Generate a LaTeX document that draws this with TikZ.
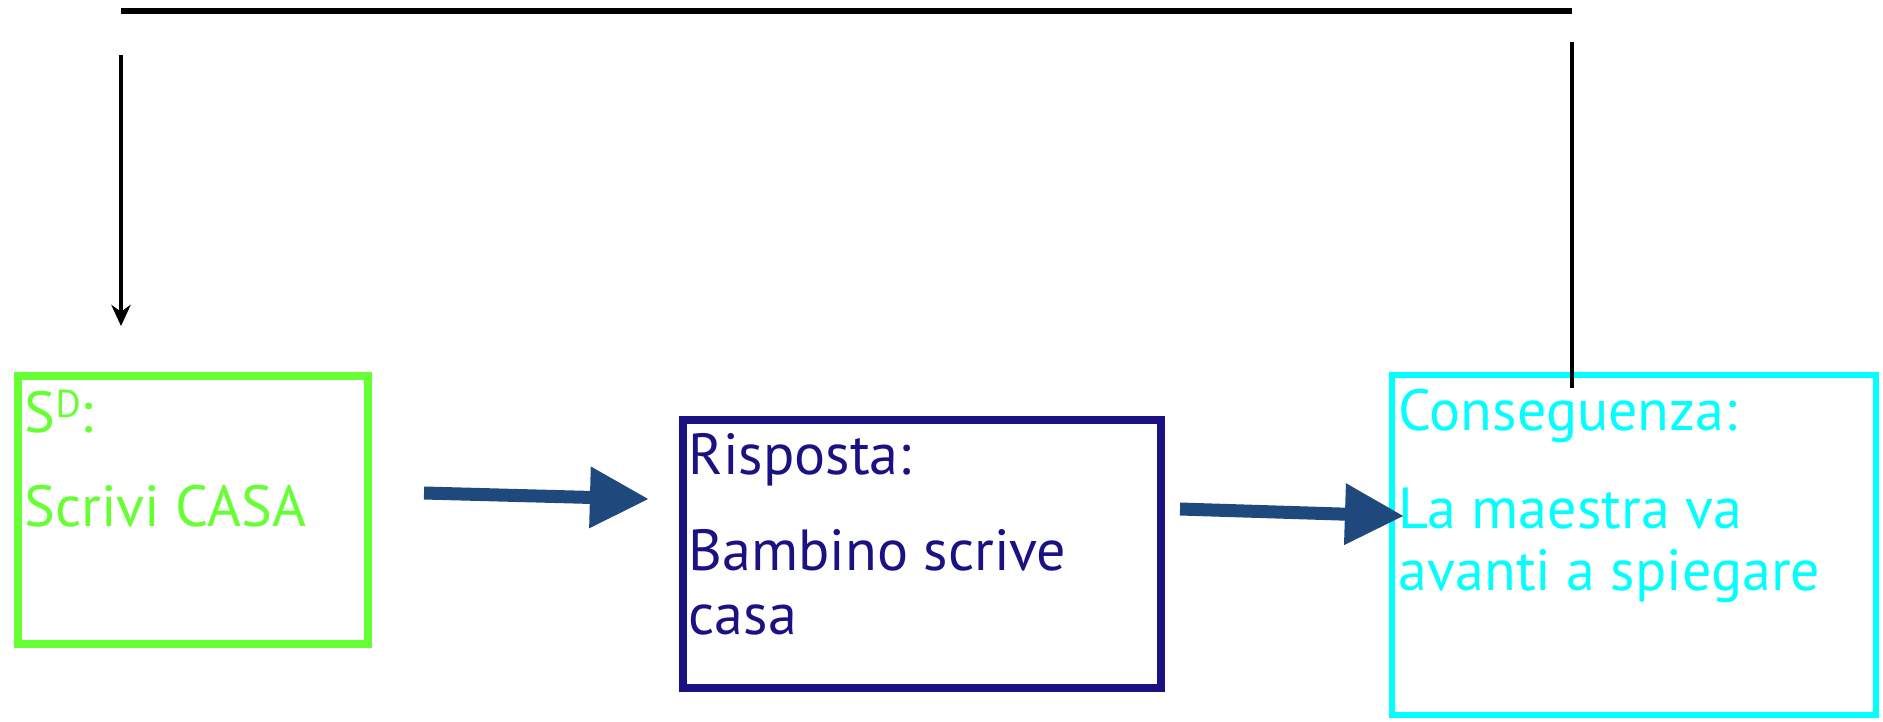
\documentclass[tikz,border=0pt]{standalone}
\usepackage{fontspec}
\setmainfont{PT Sans}
\usetikzlibrary{arrows.meta, positioning}
\definecolor{sdgreen}{HTML}{66FF33}
\definecolor{rspnavy}{HTML}{1A1282}
\definecolor{conscyan}{HTML}{00FFFF}
\definecolor{arrowblue}{HTML}{1F497D}
\tikzstyle{box}=[draw,rectangle,inner sep=0pt]
\tikzstyle{txt}=[anchor=base west,inner sep=0pt,font=\fontsize{16.5}{20}\selectfont]
\tikzstyle{fat}=[arrowblue,line width=3.7pt,-{Triangle[length=16.8pt,width=16.5pt]}]
\newcommand{\supd}{\raisebox{4pt}{\fontsize{11}{12}\selectfont D}}

\begin{document}
\begin{tikzpicture}[x=0.01cm,y=-0.01cm,>={Stealth[length=6pt,width=5.5pt]}]
    \useasboundingbox (0,0) rectangle (1883,721);
    % boxes
    \node[box, draw=sdgreen, line width=0.08cm, minimum width=3.50cm, minimum height=2.68cm] (sd) at (193,510) {};
    \node[box, draw=rspnavy, line width=0.08cm, minimum width=4.78cm, minimum height=2.68cm] (rsp) at (922,554) {};
    \node[box, draw=conscyan, line width=0.06cm, minimum width=4.83cm, minimum height=3.39cm] (cons) at (1634,545) {};
    % texts
    \node[txt, sdgreen] (sdhead) at (24,432) {S\supd:};
    \node[txt, sdgreen] (sdtext) at (24,526) {Scrivi CASA};
    \node[txt, rspnavy] (rsphead) at (688,474) {Risposta:};
    \node[txt, rspnavy] (rsptext) at (688,570) {Bambino scrive};
    \node[txt, rspnavy] (rspmore) at (688,634) {casa};
    \node[txt, conscyan] (conshead) at (1398,430) {Conseguenza:};
    \node[txt, conscyan] (constext) at (1398,528) {La maestra va};
    \node[txt, conscyan] (consmore) at (1398,590) {avanti a spiegare};
    % arrows
    \coordinate (sdout) at (424,493);
    \coordinate (rspin) at (649,499);
    \coordinate (rspout) at (1180,509);
    \coordinate (consin) at (1404,516);
    \draw[fat] (sdout) -- (rspin);
    \draw[fat] (rspout) -- (consin);
    % feedback
    \coordinate (fbstart) at (1572,388);
    \coordinate (fbup) at (1572,42);
    \coordinate (fbleft) at (121,11);
    \coordinate (fbright) at (1572,11);
    \coordinate (fbdown) at (121,55);
    \coordinate (fbend) at (121,326);
    \draw[line width=0.04cm] (fbstart) -- (fbup);
    \draw[line width=0.05cm] (fbleft) -- (fbright);
    \draw[->, line width=0.04cm] (fbdown) -- (fbend);
\end{tikzpicture}
\end{document}
